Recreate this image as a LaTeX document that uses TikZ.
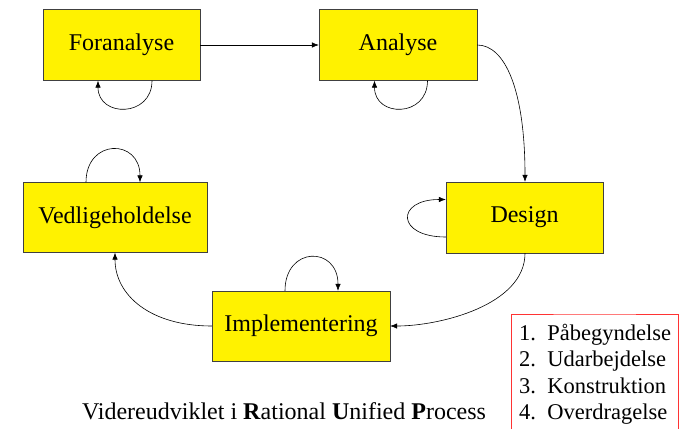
\documentclass[tikz,border=0pt]{standalone}
\usepackage{fontspec}
\setmainfont{Liberation Serif}
\usepackage{tikz}
\usetikzlibrary{arrows.meta,positioning,calc}
\tikzstyle{phase}=[draw=black!75,fill=yellow,minimum height=71pt,inner sep=0pt,font=\fontsize{24}{28}\selectfont]
\tikzstyle{flow}=[-{Latex[length=7pt,width=5.5pt]},semithick]

\begin{document}
\begin{tikzpicture}[x=1pt,y=-1pt]
      \useasboundingbox (0,0) rectangle (684,429);
      \node[phase,minimum width=157pt] at (121.5,45) (fora) {Foranalyse};
      \node[phase,minimum width=158pt] at (398,45) (ana) {Analyse};
      \node[phase,minimum width=157pt] at (524.5,217.5) (des) {Design};
      \node[phase,minimum width=178pt,minimum height=70pt] at (301,326) (impl) {Implementering};
      \node[phase,minimum width=184pt,minimum height=70pt] at (115,217.5) (ved) {Vedligeholdelse};
      % faser
      \draw[flow] (fora) -- (ana);
      \draw[flow] (ana.east) .. controls (505,45) and (525,90) .. ($(des.north)+(0.5,0)$);
      \draw[flow] ($(des.south)+(0.5,0)$) .. controls (525,305) and (440,326) .. (impl.east);
      \draw[flow] (impl.west) .. controls (150,326) and (115,295) .. (ved.south);
      % iterationer
      \draw[flow] ([xshift=30.5]fora.south) .. controls +(0,37) and +(0,37) .. ([xshift=-23.5]fora.south);
      \draw[flow] ([xshift=29.5]ana.south) .. controls +(0,37) and +(0,37) .. ([xshift=-23.5]ana.south);
      \draw[flow] ([yshift=-19.5]des.west) .. controls +(-50,0) and +(-50,0) .. ([yshift=18]des.west);
      \draw[flow] ([xshift=-29]ved.north) .. controls +(0,-44) and +(0,-44) .. ([xshift=25]ved.north);
      \draw[flow] ([xshift=-16]impl.north) .. controls +(0,-45) and +(0,-45) .. ([xshift=37]impl.north);
      % boks med faser
      \coordinate (bl) at (511,429);
      \coordinate (br) at (678,429);
      \draw[red!80] (bl) |- (594.5,314) -| (br);
      \node[anchor=north west,align=left,inner sep=0pt,font=\fontsize{22.5}{26.3}\selectfont] at (519,324) (faser)
        {1.\enspace Påbegyndelse\\2.\enspace Udarbejdelse\\3.\enspace Konstruktion\\4.\enspace Overdragelse};
      \node[font=\fontsize{24}{28}\selectfont,anchor=base] at (284,419) (rup)
        {Videreudviklet i \textbf{R}ational \textbf{U}nified \textbf{P}rocess};
\end{tikzpicture}
\end{document}
